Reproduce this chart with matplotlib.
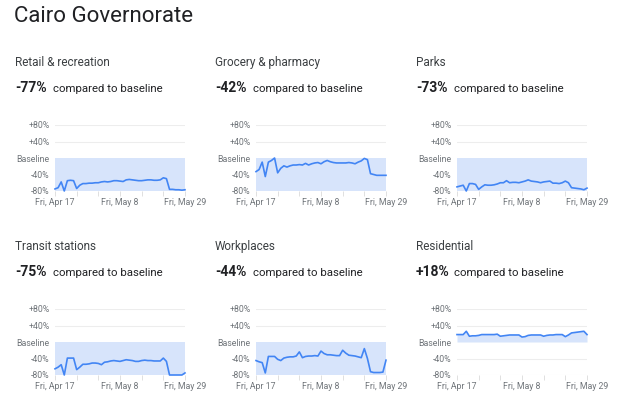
import numpy as np
import matplotlib
matplotlib.use("Agg")
import matplotlib.pyplot as plt

# Google mobility report, Cairo Governorate, Fri Apr 17 - Fri May 29 (daily, % change vs baseline)
title = "Cairo Governorate"
categories = ["Retail & recreation", "Grocery & pharmacy", "Parks",
              "Transit stations", "Workplaces", "Residential"]
headlines = ["-77%", "-42%", "-73%", "-75%", "-44%", "+18%"]

retail = [-75, -72, -58, -82, -55, -54, -55, -74, -66, -62, -62, -61, -61, -60, -60,
          -58, -57, -58, -57, -55, -55, -56, -57, -53, -52, -53, -54, -55, -55, -54,
          -53, -53, -54, -54, -53, -48, -50, -76, -76, -77, -77, -78, -77]
grocery = [-33, -28, -10, -45, -10, -6, 0, -36, -25, -19, -22, -19, -17, -17, -16,
           -17, -13, -17, -14, -12, -11, -14, -9, -6, -9, -11, -12, -12, -12, -12,
           -11, -12, -14, -10, -7, -1, -4, -38, -40, -42, -42, -42, -42]
parks = [-70, -68, -66, -80, -62, -62, -64, -76, -70, -65, -66, -66, -65, -63, -60,
         -60, -55, -60, -59, -59, -60, -58, -56, -53, -56, -57, -58, -60, -58, -57,
         -56, -61, -61, -62, -60, -56, -60, -72, -73, -74, -75, -77, -73]
transit = [-65, -61, -55, -82, -39, -39, -39, -67, -61, -54, -54, -53, -51, -51, -52,
           -55, -49, -48, -46, -45, -46, -47, -45, -43, -44, -45, -47, -47, -45, -44,
           -45, -45, -46, -46, -46, -39, -47, -80, -80, -80, -80, -80, -75]
workplaces = [-45, -48, -50, -75, -35, -35, -35, -42, -45, -39, -37, -36, -36, -34, -24,
              -38, -35, -34, -34, -33, -34, -22, -28, -31, -31, -32, -33, -33, -20, -27,
              -32, -33, -34, -36, -38, -16, -40, -72, -74, -74, -74, -73, -44]
residential = [18, 18, 18, 26, 14, 15, 15, 16, 18, 18, 18, 18, 18, 19, 14,
               15, 16, 17, 17, 17, 17, 12, 13, 16, 17, 17, 17, 17, 14, 16,
               17, 17, 18, 18, 18, 13, 17, 22, 23, 24, 25, 26, 18]
series = [retail, grocery, parks, transit, workplaces, residential]

x_labels = ["Fri, Apr 17", "Fri, May 8", "Fri, May 29"]
y_ticks = [80, 40, 0, -40, -80]
y_labels = ["+80%", "+40%", "Baseline", "-40%", "-80%"]

W, H = 624, 399
fig = plt.figure(figsize=(W / 100, H / 100), dpi=100)
plt.rcParams['font.family'] = ['Roboto', 'DejaVu Sans']

LINE = '#4285f4'
FILL = '#d7e4fb'
GRID = '#ededed'
TICK = '#70757a'

fig.text(14 / W, 1 - 22 / H, title, fontsize=16, color='#202124', va='baseline')

col_x = [15, 215, 416]
plot_left = [55, 256, 457]
row_y = [0, 184]

for i, (cat, head, vals) in enumerate(zip(categories, headlines, series)):
    r, c = divmod(i, 3)
    dy = row_y[r]
    tx = col_x[c]
    fig.text(tx / W, 1 - (66 + dy) / H, cat, fontsize=8.5, color='#3c4043', va='baseline')
    fig.text(tx / W, 1 - (92 + dy) / H, head, fontsize=10, fontweight='bold',
             color='#202124', va='baseline')
    fig.text((tx + 38) / W, 1 - (92 + dy) / H, "compared to baseline", fontsize=8.2,
             color='#202124', va='baseline')

    top = 125 + dy
    bot = 191 + dy
    ax = fig.add_axes([plot_left[c] / W, 1 - bot / H, 130 / W, (bot - top) / H])
    days = np.arange(len(vals))
    v = np.array(vals, dtype=float)
    if v.mean() < 0:
        ax.fill_between(days, -80, 0, color=FILL, lw=0, zorder=1)
    else:
        ax.fill_between(days, 0, v, color=FILL, lw=0, zorder=1)
    for g in [80, 40, -40, -80]:
        ax.axhline(g, color=GRID, lw=0.8, zorder=0)
    ax.plot(days, np.clip(v, -80, 80), color=LINE, lw=1.2, zorder=3, clip_on=False)

    ax.set_xlim(0, len(vals) - 1)
    ax.set_ylim(-80, 80)
    for s in ax.spines.values():
        s.set_visible(False)
    ax.set_facecolor('none')
    ax.set_yticks(y_ticks)
    ax.set_yticklabels(y_labels, fontsize=6.3, color=TICK)
    ax.tick_params(axis='y', length=0, pad=4)
    ax.set_xticks(np.arange(0, len(vals), 7))
    ax.set_xticklabels([x_labels[0], '', '', x_labels[1], '', '', x_labels[2]],
                       fontsize=6.3, color=TICK)
    ax.tick_params(axis='x', length=3.5, width=0.6, color='#dadada', pad=1.5)

fig.savefig("out.png", dpi=100, facecolor='white')
